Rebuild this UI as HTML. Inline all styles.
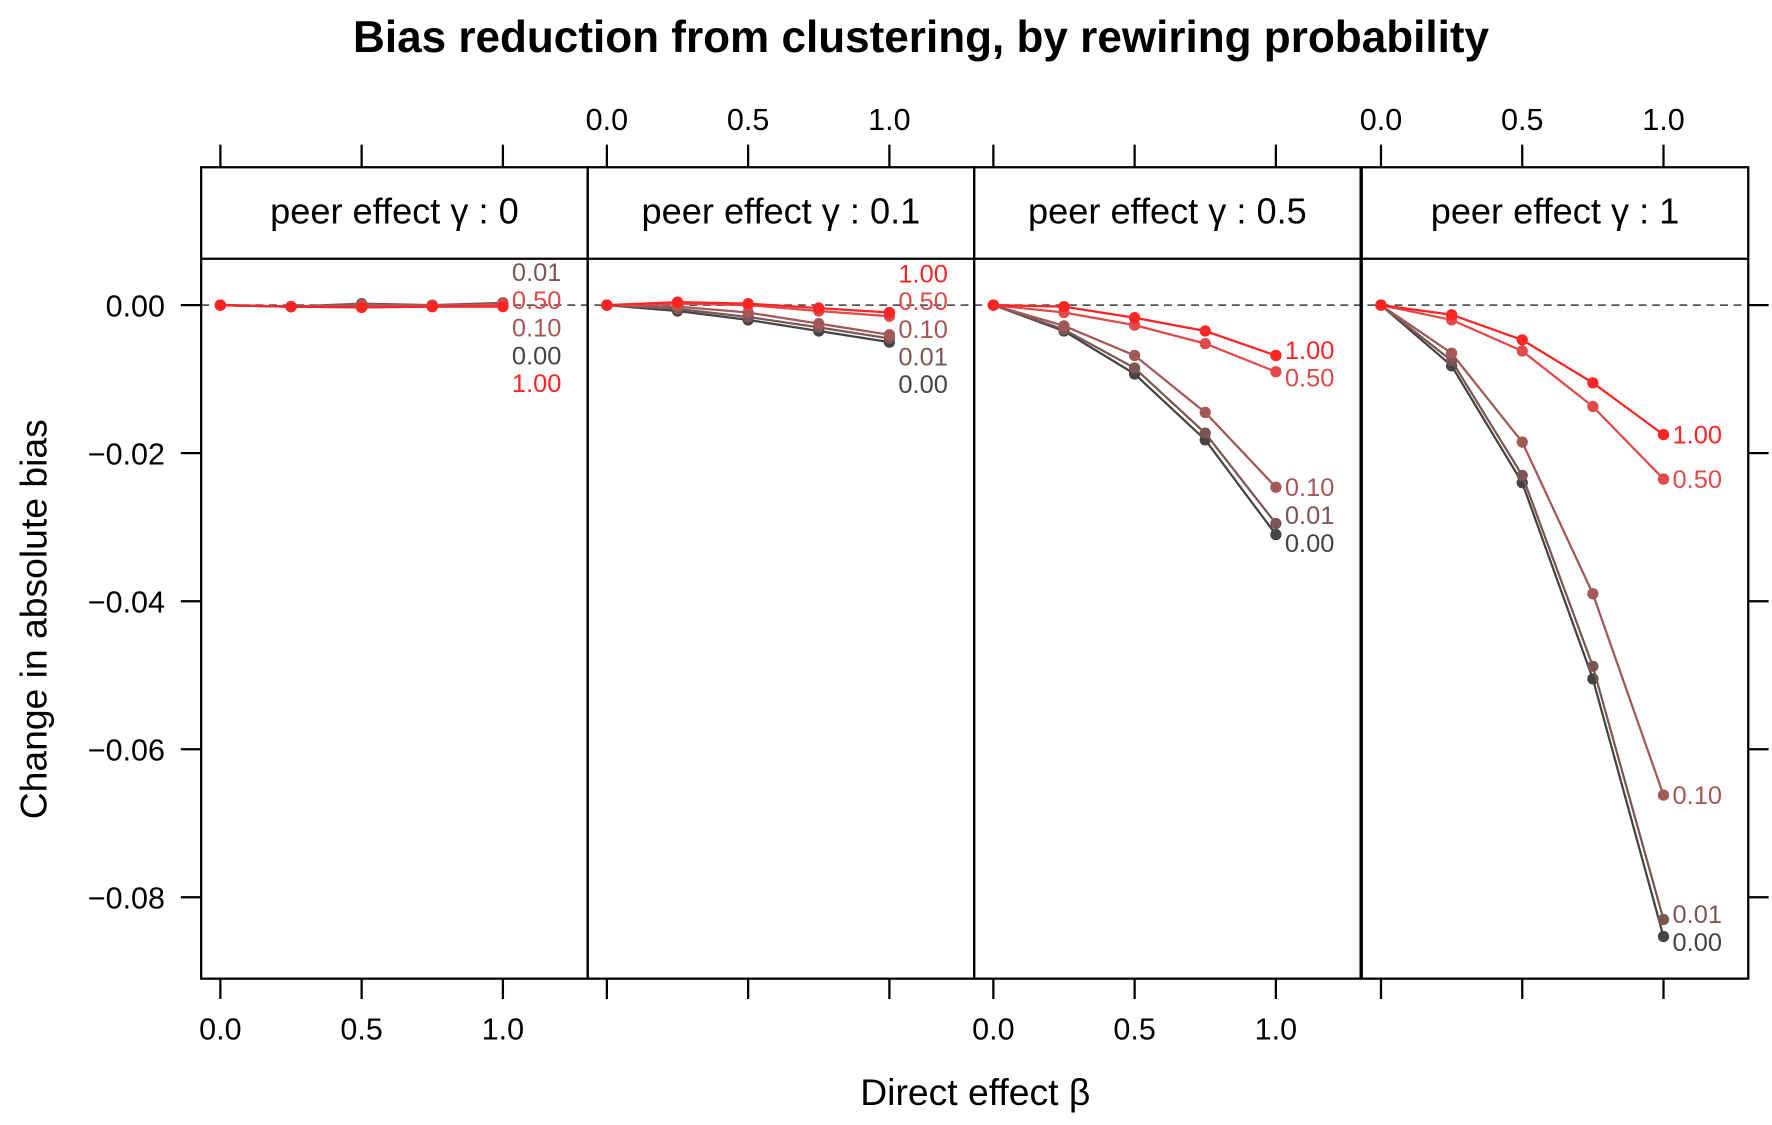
<!DOCTYPE html>
<html><head><meta charset="utf-8"><style>
html,body{margin:0;padding:0;background:#fff}
svg{display:block;font-family:"Liberation Sans",Arial,sans-serif}
</style></head><body>
<svg id="chart" width="1772" height="1125" viewBox="0 0 1568 995.5" xmlns="http://www.w3.org/2000/svg">
<text x="815" y="46" text-anchor="middle" font-size="39" font-weight="bold">Bias reduction from clustering, by rewiring probability</text>
<text transform="translate(41,548) rotate(-90)" text-anchor="middle" font-size="33">Change in absolute bias</text>
<text x="863" y="978" text-anchor="middle" font-size="33">Direct effect β</text>
<g id="plot"></g>
</svg>
<script>
const betas = [0, 0.25, 0.5, 0.75, 1];
const gammaLabels = ["0", "0.1", "0.5", "1"];
const rewireLabels = ["0.00", "0.01", "0.10", "0.50", "1.00"];
// values[panel][series][beta]
const g0 = [[0,-0.0002,-0.0002,-0.0002,-0.0001],[0,-0.0002,0.0002,0,0.0003],[0,-0.0002,0,0,0],[0,-0.0002,-0.0003,-0.0002,0.0001],[0,-0.0002,-0.0003,-0.0002,-0.0002]];
const g01 = [[0,-0.0008,-0.002,-0.0035,-0.005],[0,-0.0005,-0.0016,-0.003,-0.0045],[0,-0.0002,-0.001,-0.0025,-0.004],[0,0.0002,0,-0.0008,-0.0015],[0,0.0004,0.0002,-0.0004,-0.001]];
const g05 = [[0,-0.0035,-0.0093,-0.0182,-0.031],[0,-0.0033,-0.0085,-0.0173,-0.0295],[0,-0.0028,-0.0068,-0.0145,-0.0246],[0,-0.001,-0.0027,-0.0052,-0.009],[0,-0.0002,-0.0017,-0.0035,-0.0068]];
const g1 = [[0,-0.0082,-0.024,-0.0505,-0.0853],[0,-0.0075,-0.023,-0.0488,-0.083],[0,-0.0065,-0.0185,-0.039,-0.0662],[0,-0.002,-0.0062,-0.0137,-0.0235],[0,-0.0013,-0.0047,-0.0105,-0.0175]];
const panelValues = [g0, g01, g05, g1];
const yTicks = [0, -0.02, -0.04, -0.06, -0.08];
const yTickLabels = ["0.00", "\u22120.02", "\u22120.04", "\u22120.06", "\u22120.08"];
const xTicks = [0, 0.5, 1];
const xTickLabels = ["0.0", "0.5", "1.0"];

const colors = ["#444444", "#7a5656", "#a45858", "#e04a4a", "#ff2424"];
const NS = "http://www.w3.org/2000/svg";
const root = document.getElementById("plot");
const panelLeft = [178, 520, 862, 1205], panelW = 342;
const stripTop = 148, stripBot = 229, plotBot = 866;
function xScale(p, b) { return panelLeft[p] + 17 + b * 250; }
function yScale(v) { return 270 - v * 6550; }
function mk(tag, attrs, parent) {
  const e = document.createElementNS(NS, tag);
  for (const k in attrs) e.setAttribute(k, attrs[k]);
  (parent || root).appendChild(e);
  return e;
}
const zl = mk("line", {x1:178, x2:1547, y1:yScale(0), y2:yScale(0), stroke:"#555", "stroke-width":1.5, "stroke-dasharray":"7,5"});



for (let p = 0; p < 4; p++) {
  const L = panelLeft[p];
  const g = mk("g", {});
  
  
  const st = mk("text", {x: L + panelW/2, y: 198, "text-anchor":"middle", "font-size":32}, g);
  st.textContent = "peer effect γ : " + gammaLabels[p];
  
  
  const vals = panelValues[p];
  for (let s = 0; s < 5; s++) {
    const pts = betas.map((b, i) => xScale(p, b) + "," + yScale(vals[s][i])).join(" ");
    const pl = mk("polyline", {points: pts, fill:"none", stroke: colors[s], "stroke-width":2}, g);
    
    
    betas.forEach((b, i) => {
      const c = mk("circle", {cx: xScale(p, b), cy: yScale(vals[s][i]), r: 5, fill: colors[s]}, g);
      
      
    });
  }
  const ends = vals.map((v, s) => ({s, y: yScale(v[4])})).sort((a, b) => a.y - b.y);
  const gap = 24.5;
  for (let it = 0; it < 200; it++) {
    for (let k = 1; k < ends.length; k++) {
      const d = ends[k].y - ends[k-1].y;
      if (d < gap) { const m = (gap - d) / 2; ends[k].y += m; ends[k-1].y -= m; }
    }
  }
  const endVals = vals.map(v => v[4]);
  const tiny = Math.max(...endVals) - Math.min(...endVals) < 0.001;
  ends.forEach(e => {
    const t = mk("text", {x: xScale(p, 1) + 8, y: e.y + (tiny ? 20 : 0) + 8, "font-size":22.5, fill: colors[e.s]}, g);
    t.textContent = rewireLabels[e.s];
    
    
  });
  mk("rect", {x: L, y: stripTop, width: panelW, height: plotBot - stripTop, fill:"none", stroke:"#000", "stroke-width":2}, g);
  mk("line", {x1: L, x2: L + panelW, y1: stripBot, y2: stripBot, stroke:"#000", "stroke-width":2}, g);
  xTicks.forEach((b, i) => {
    const x = xScale(p, b);
    mk("line", {x1:x, x2:x, y1:128, y2:stripTop, stroke:"#000", "stroke-width":2}, g);
    mk("line", {x1:x, x2:x, y1:plotBot, y2:884, stroke:"#000", "stroke-width":2}, g);
    if (p % 2 === 1) {
      const t = mk("text", {x, y: 115, "text-anchor":"middle", "font-size":27}, g);
      t.textContent = xTickLabels[i];
      
      
    } else {
      const t = mk("text", {x, y: 920, "text-anchor":"middle", "font-size":27}, g);
      t.textContent = xTickLabels[i];
      
      
    }
  });
}
yTicks.forEach((v, i) => {
  const y = yScale(v);
  mk("line", {x1:160, x2:178, y1:y, y2:y, stroke:"#000", "stroke-width":2});
  mk("line", {x1:1547, x2:1565, y1:y, y2:y, stroke:"#000", "stroke-width":2});
  const t = mk("text", {x: 146, y: y + 10, "text-anchor":"end", "font-size":27});
  t.textContent = yTickLabels[i];
  
  
});
</script>
</body></html>
